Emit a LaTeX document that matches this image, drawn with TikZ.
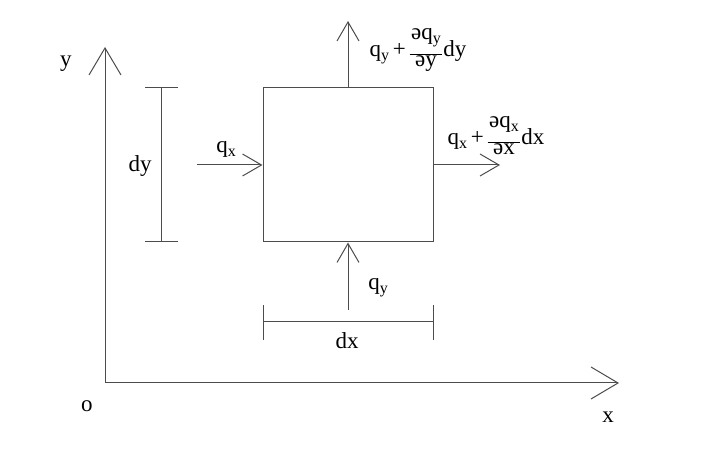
\documentclass[tikz,border=0pt]{standalone}
\usepackage{fontspec}
\setmainfont{Liberation Serif}
\usetikzlibrary{arrows.meta}
\newsavebox\numbox
\newsavebox\denbox
\newlength\frw
\newcommand{\sbx}[1]{\raisebox{-4pt}{\fontsize{16}{18}\selectfont #1}}
\newcommand{\dfr}[2]{%
	\sbox\numbox{#1}\sbox\denbox{#2}%
	\setlength\frw{\wd\numbox}%
	\ifdim\wd\denbox>\frw \setlength\frw{\wd\denbox}\fi
	\addtolength\frw{3pt}%
	\rlap{\makebox[\frw]{\raisebox{17.5pt}{\usebox\numbox}}}%
	\rlap{\rule[2.5pt]{\frw}{0.9pt}}%
	\makebox[\frw]{\raisebox{-10pt}{\usebox\denbox}}\kern1pt}
\begin{document}
\begin{tikzpicture}[x=1pt,y=1pt,
		every node/.style={font=\fontsize{23}{28}\selectfont},
		ln/.style={black!70,line width=1pt},
		ax/.style={ln,-{Straight Barb[length=27pt,width=32pt]}},
		flux/.style={ln,-{Straight Barb[length=19pt,width=22pt]}}]
		\useasboundingbox (-105,-80) rectangle (610,383);
		\coordinate (O) at (0,0);
		\coordinate (Y) at (0,336);
		\coordinate (X) at (514,0);
		\draw[ax] (O) -- (Y);
		\draw[ax] (O) -- (X);
		\node[anchor=base] (ylab) at (-39,316) {y};
		\node[anchor=base] (olab) at (-18,-29) {o};
		\node[anchor=base] (xlab) at (503,-40) {x};
		\node[draw=black!70,line width=1pt,minimum width=170pt,minimum height=154pt,inner sep=0pt] (el) at (243,218) {};
		\coordinate (qxin) at (92,218);
		\coordinate (qxout) at (395,218);
		\coordinate (qyin) at (243,73);
		\coordinate (qyout) at (243,362);
		\draw[flux] (qxin) -- (el.west);
		\draw[flux] (el.east) -- (qxout);
		\draw[flux] (qyin) -- (el.south);
		\draw[flux] (el.north) -- (qyout);
		\node[anchor=base] (qxin lab) at (121,230) {q\sbx{x}};
		\node[anchor=base] (qxlab) at (391,238) {q\sbx{x}\,+\,\dfr{əq\sbx{x}}{əx}dx};
		\node[anchor=base] (qylab) at (313,326) {q\sbx{y}\,+\,\dfr{əq\sbx{y}}{əy}dy};
		\node[anchor=base] (qyin lab) at (273,93) {q\sbx{y}};
		\coordinate (dx1) at (158,61);
		\coordinate (dx2) at (328,61);
		\coordinate (dy1) at (56,141);
		\coordinate (dy2) at (56,295);
		\draw[ln] (dx1) -- (dx2);
		\draw[ln] (dy1) -- (dy2);
		\foreach \gap in {158,328} \draw[ln] (\gap,43) -- (\gap,78);
		\foreach \gap in {141,295} \draw[ln] (40,\gap) -- (73,\gap);
		\node[anchor=base] (dxlab) at (242,34) {dx};
		\node[anchor=base] (dylab) at (35,211) {dy};
	\end{tikzpicture}
\end{document}
